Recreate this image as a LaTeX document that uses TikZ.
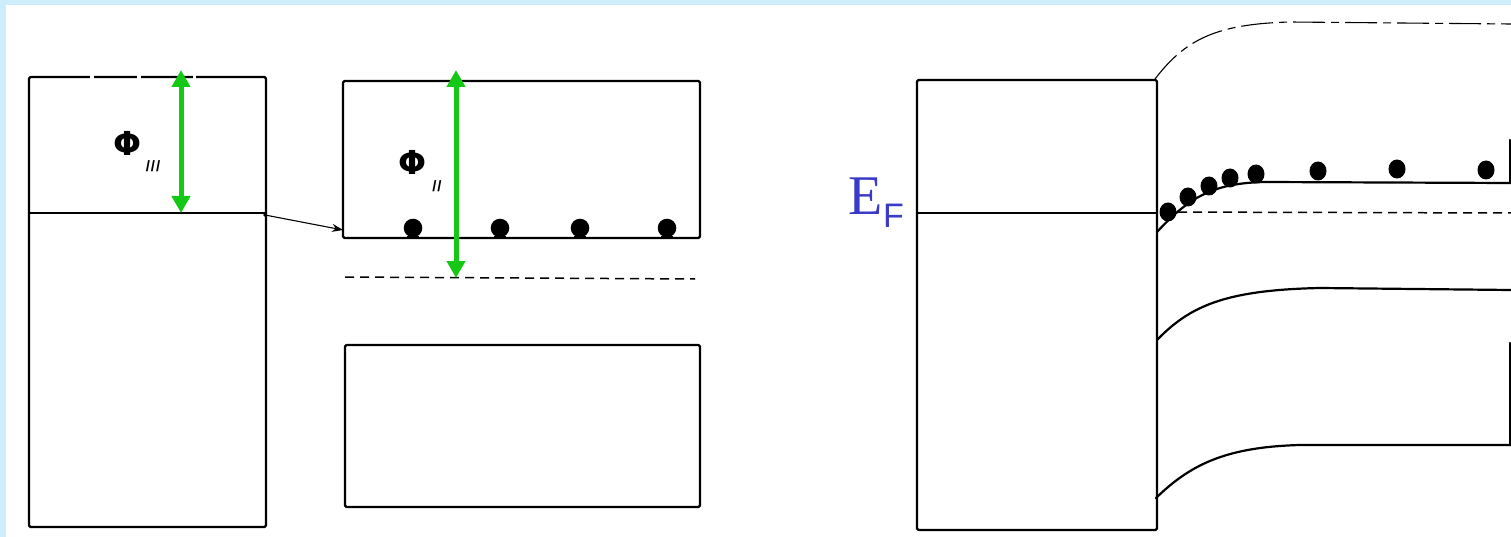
\documentclass[tikz,border=0pt]{standalone}
\usepackage{fontspec}
\newfontfamily\sansf{Liberation Sans}
\newfontfamily\dejaf{DejaVu Sans}
\newfontfamily\seriff{Liberation Serif}
\usetikzlibrary{arrows.meta}
\definecolor{bgblue}{RGB}{205,236,252}
\definecolor{mygreen}{RGB}{22,200,22}
\definecolor{efblue}{RGB}{58,58,200}
\begin{document}
\begin{tikzpicture}[x=1pt,y=-1pt,
  band/.style={line width=2.2pt, line join=round, line cap=round},
  boxnode/.style={draw, band, inner sep=0pt, outer sep=0pt, rounded corners=1.5pt},
  greenarrow/.style={draw=mygreen, line width=5pt, {Triangle[width=18pt,length=17pt]}-{Triangle[width=18pt,length=17pt]}},
  fermidash/.style={line width=1.5pt, dash pattern=on 9pt off 6pt},
  vacdash/.style={line width=1.1pt, dash pattern=on 32pt off 6pt on 8pt off 6pt},
  electron/.style={fill=black, draw=none},
  philabel/.style={font=\dejaf\bfseries\fontsize{33}{33}\selectfont, inner sep=0pt},
  sublabel/.style={font=\sansf\bfseries\fontsize{15}{15}\selectfont, inner sep=0pt}
]
\useasboundingbox (0,0) rectangle (1511,537);
\fill[bgblue] (0,0) rectangle (1511,537);
\fill[white] (6,5) rectangle (1511,537);

% ---------- left metal ----------
\node[boxnode, minimum width=237pt, minimum height=450pt] (metalL) at (147.5,302) {};
\draw[band] (29,213) -- (266,213);
% small gaps in the vacuum level (top edge)
\foreach \a/\b in {90/94,137/141,193/196}{
  \draw[white, line width=3.5pt] (\a,77) -- (\b,77);
}
\coordinate (phiLtop) at (181,70);
\coordinate (phiLbot) at (181,213);
\draw[greenarrow] (phiLbot) -- (phiLtop);
\node[philabel] (phiL) at (128,143) {Φ};
\node[sublabel] (phiLsub) at (153,166) {/\kern1pt/\kern1pt/};

% ---------- middle semiconductor ----------
\node[boxnode, minimum width=357pt, minimum height=157pt] (cb) at (521.5,159.5) {};
\node[boxnode, minimum width=355pt, minimum height=162pt] (vb) at (522.5,426) {};
\draw[fermidash] (345,277) -- (695,279);
\foreach \x in {413,500,580,667}{
  \fill[electron] (\x,228) circle (9.3pt);
  \fill[electron] (\x-6,236) rectangle (\x+6,238);
}
\coordinate (phiMtop) at (456,70);
\coordinate (phiMbot) at (456,278);
\draw[greenarrow] (phiMbot) -- (phiMtop);
\node[philabel] (phiM) at (413,162) {Φ};
\node[sublabel] (phiMsub) at (437,186) {/\kern1pt/};

% connector metal -> semiconductor
\coordinate (arrS) at (265,215);
\coordinate (arrE) at (343,230);
\fill (arrS) circle (1.8pt);
\draw[line width=1.1pt, -{Stealth[length=11pt,width=8pt]}] (arrS) -- (arrE);

% ---------- right: contact ----------
\node[boxnode, minimum width=240pt, minimum height=450pt] (metalR) at (1037,305) {};
\draw[band] (917,213) -- (1157,213);
\node[inner sep=0pt, anchor=base east, text=efblue, font=\seriff\fontsize{56}{56}\selectfont] (EF) at (883,215) {E};
\node[inner sep=0pt, anchor=base west, text=efblue, font=\sansf\fontsize{34}{34}\selectfont] (EFsub) at (EF.base east) [yshift=-13pt] {F};

% vacuum level
\draw[vacdash] (1155,79) .. controls (1185,40) and (1215,24) .. (1290,22) -- (1511,24);
% conduction band edge
\draw[band] (1157,232) .. controls (1190,196) and (1215,183) .. (1265,182) -- (1511,183);
\draw[band] (1510,140) -- (1510,183);
% Fermi level
\draw[fermidash] (1163,212) -- (1511,213);
% electrons
\foreach \x/\y in {1168/212,1188/197,1209/186,1230/178,1256/174,1318/171,1397/169,1486/170}{
  \fill[electron] (\x,\y) ellipse (8.5pt and 9.5pt);
}
% valence band edge
\draw[band] (1157,340) .. controls (1190,306) and (1225,290) .. (1320,288) -- (1511,290);
\draw[band] (1510,343) -- (1510,445);
% lower edge
\draw[band] (1156,498) .. controls (1190,465) and (1225,447) .. (1300,445) -- (1511,445);
\end{tikzpicture}
\end{document}
